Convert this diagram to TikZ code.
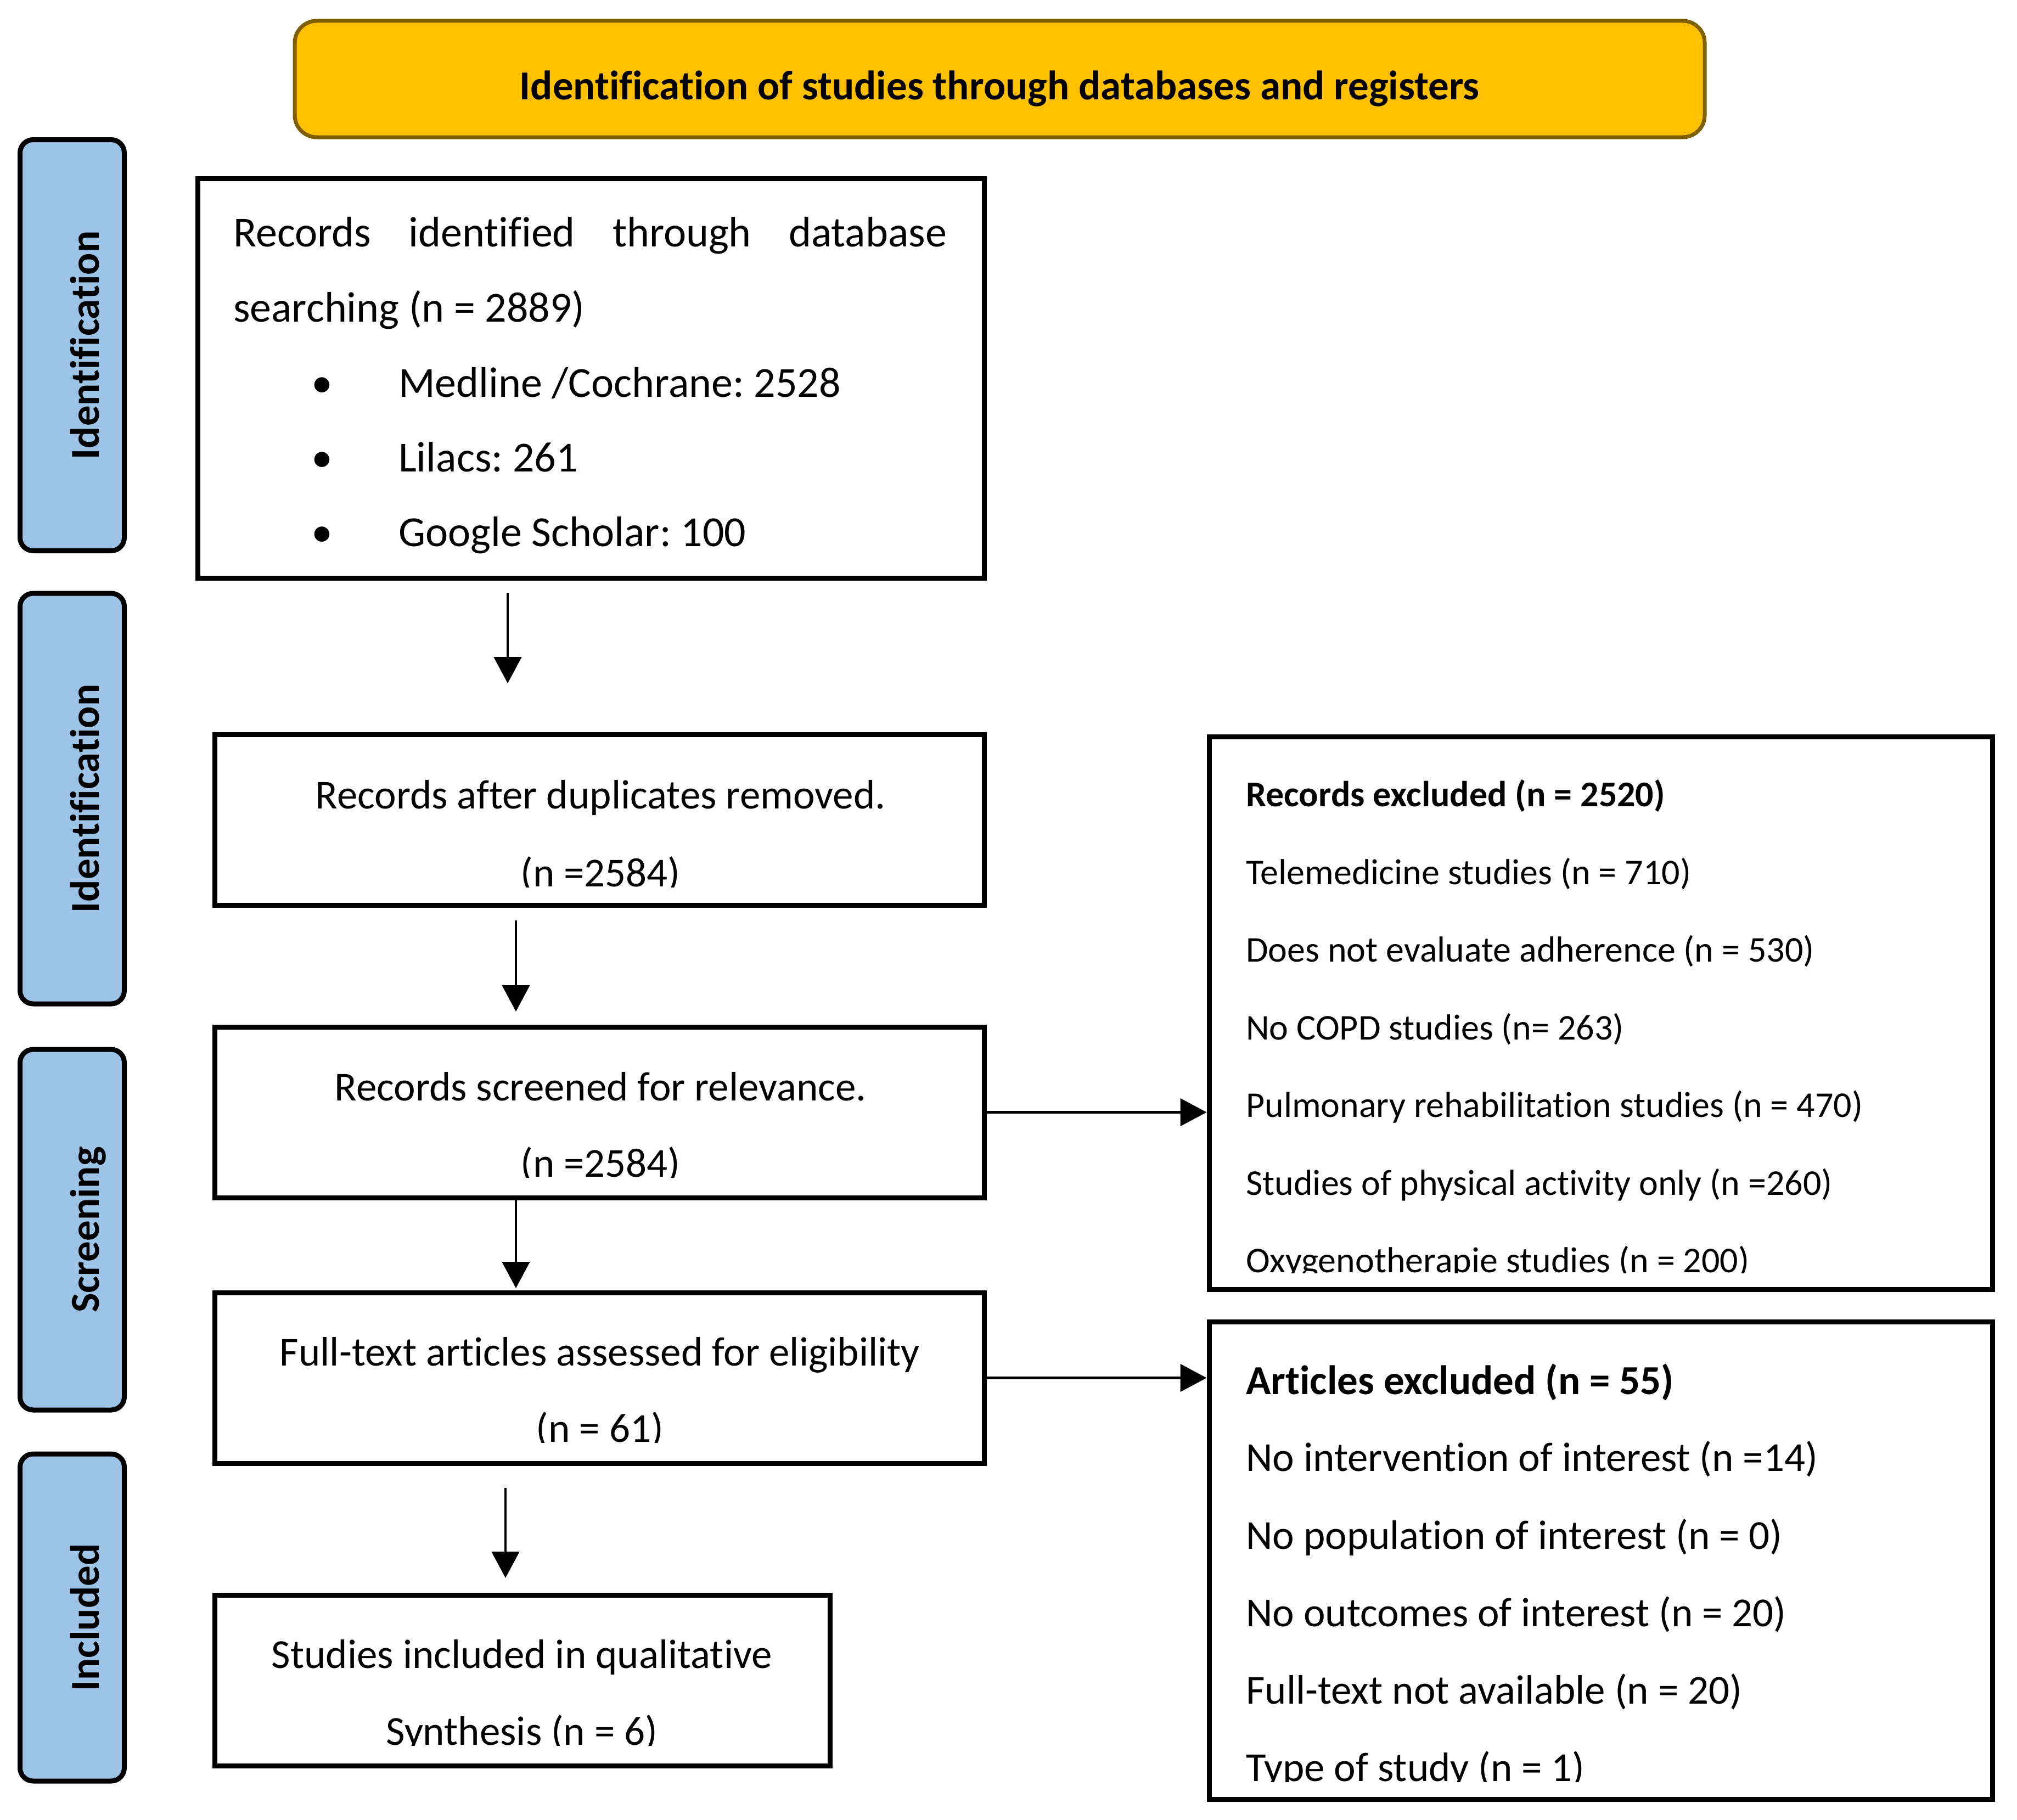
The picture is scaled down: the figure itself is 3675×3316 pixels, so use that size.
\documentclass[tikz,border=0pt]{standalone}
\usepackage{fontspec}
\setmainfont{Carlito}[Ligatures=NoCommon]
\usetikzlibrary{arrows.meta}
\definecolor{bannerfill}{HTML}{FFC000}
\definecolor{banneredge}{HTML}{7F6000}
\definecolor{sidefill}{HTML}{9DC3E6}
\newcommand\setfs[1]{\fontsize{#1pt}{#1pt}\selectfont}
\frenchspacing
\begin{document}
\begin{tikzpicture}[x=1pt,y=-1pt,
  boxn/.style={draw=black, line width=9pt, rectangle, inner sep=0pt},
  sidebox/.style={draw=black, line width=9pt, fill=sidefill, rounded corners=24pt, inner sep=0pt, minimum width=190pt},
  sidelab/.style={rotate=90, anchor=base, inner sep=0pt, font=\setfs{75}\bfseries},
  txt/.style={inner sep=0pt, font=\setfs{75}},
  txtone/.style={inner sep=0pt, font=\setfs{78}},
  txta/.style={inner sep=0pt, font=\setfs{66}, anchor=base west},
  txtb/.style={inner sep=0pt, font=\setfs{75}, anchor=base west},
  arr/.style={line width=4.7pt, -{Triangle[length=48pt,width=50pt]}},
]
\useasboundingbox (0,0) rectangle (3675,3316);

% banner
\node[draw=banneredge, fill=bannerfill, line width=7pt, rounded corners=40pt,
      minimum width=2569pt, minimum height=212pt, inner sep=0pt] (banner) at (1821.5,144) {};
\node[txt, font=\setfs{75}\bfseries, anchor=base] (bannertxt) at (1821,181)
  {Identification of studies through databases and registers};

% side labels
\node[sidebox, minimum height=749pt] (s1) at (131.5,629) {};
\node[sidelab] (l1) at (180,629) {Identification};
\node[sidebox, minimum height=748pt] (s2) at (131.5,1455) {};
\node[sidelab] (l2) at (180,1455) {Identification};
\node[sidebox, minimum height=657pt] (s3) at (131.5,2240.5) {};
\node[sidelab] (l3) at (180,2240.5) {Screening};
\node[sidebox, minimum height=596pt] (s4) at (131.5,2947) {};
\node[sidelab] (l4) at (180,2947) {Included};

% box 1
\node[boxn, minimum width=1433pt, minimum height=728pt] (b1) at (1076.5,689) {};
\node[txtone, anchor=base west] (t1a) at (425,449) {\makebox[1300pt][s]{Records identified through database}};
\node[txtone, anchor=base west] (t1b) at (425,586) {searching (n = 2889)};
\node[txtone, anchor=base] (u1) at (587,723) {•};
\node[txtone, anchor=base west] (t1c) at (726,723) {Medline /Cochrane: 2528};
\node[txtone, anchor=base] (u2) at (587,859) {•};
\node[txtone, anchor=base west] (t1d) at (726,859) {Lilacs: 261};
\node[txtone, anchor=base] (u3) at (587,995) {•};
\node[txtone, anchor=base west] (t1e) at (726,995) {Google Scholar: 100};

% boxes 2-5
\node[boxn, minimum width=1402pt, minimum height=311pt] (b2) at (1092,1493.5) {};
\node[boxn, minimum width=1402pt, minimum height=311pt] (b3) at (1092,2026.5) {};
\node[boxn, minimum width=1402pt, minimum height=311pt] (b4) at (1092,2510.5) {};
\node[boxn, minimum width=1121pt, minimum height=311pt] (b5) at (951.5,3061.5) {};

\begin{scope}
\clip (391,1338) rectangle (1793,1616);
\node[txt, anchor=base] (t2a) at (1094,1473) {Records after duplicates removed.};
\node[txt, anchor=base] (t2b) at (1094,1615) {(n =2584)};
\end{scope}
\begin{scope}
\clip (391,1871) rectangle (1793,2145);
\node[txt, anchor=base] (t3a) at (1094,2005) {Records screened for relevance.};
\node[txt, anchor=base] (t3b) at (1094,2144) {(n =2584)};
\end{scope}
\begin{scope}
\clip (391,2355) rectangle (1793,2628);
\node[txt, anchor=base] (t4a) at (1093,2488) {Full-text articles assessed for eligibility};
\node[txt, anchor=base] (t4b) at (1093,2627) {(n = 61)};
\end{scope}
\begin{scope}
\clip (391,2906) rectangle (1512,3180);
\node[txt, anchor=base] (t5a) at (951,3039) {Studies included in qualitative};
\node[txt, anchor=base] (t5b) at (951,3179) {Synthesis (n = 6)};
\end{scope}

% right boxes
\node[boxn, minimum width=1427pt, minimum height=1007pt] (exA) at (2916.5,1845.5) {};
\node[boxn, minimum width=1427pt, minimum height=870pt] (exB) at (2916.5,2843) {};

\begin{scope}
\clip (2203,1342) rectangle (3630,2319);
\node[txta, font=\setfs{66}\bfseries] (ta0) at (2270,1469) {Records excluded (n = 2520)};
\node[txta] (ta1) at (2270,1611) {Telemedicine studies (n = 710)};
\node[txta] (ta2) at (2270,1752) {Does not evaluate adherence (n = 530)};
\node[txta] (ta3) at (2270,1894) {No COPD studies (n= 263)};
\node[txta] (ta4) at (2270,2035) {Pulmonary rehabilitation studies (n = 470)};
\node[txta] (ta5) at (2270,2177) {Studies of physical activity only (n =260)};
\node[txta] (ta6) at (2270,2318) {Oxygenotherapie studies (n = 200)};
\end{scope}
\begin{scope}
\clip (2203,2408) rectangle (3630,3246);
\node[txtb, font=\setfs{75}\bfseries] (tb0) at (2270,2540) {Articles excluded (n = 55)};
\node[txtb] (tb1) at (2270,2680) {No intervention of interest (n =14)};
\node[txtb] (tb2) at (2270,2822) {No population of interest (n = 0)};
\node[txtb] (tb3) at (2270,2963) {No outcomes of interest (n = 20)};
\node[txtb] (tb4) at (2270,3104) {Full-text not available (n = 20)};
\node[txtb] (tb5) at (2270,3245) {Type of study (n = 1)};
\end{scope}

% connectors
\coordinate (c1) at (925,0);
\coordinate (c2) at (940,0);
\coordinate (c4) at (921,0);
\draw[arr, shorten <=22.5pt, shorten >=88.5pt] (b1.south -| c1) -- (b2.north -| c1);
\draw[arr, shorten <=23.5pt, shorten >=23.5pt] (b2.south -| c2) -- (b3.north -| c2);
\draw[arr, shorten >=3.5pt] (b3.south -| c2) -- (b4.north -| c2);
\draw[arr, shorten <=40.5pt, shorten >=26.5pt] (b4.south -| c4) -- (b5.north -| c4);
\draw[arr] (b3.east) -- (b3.east -| exA.west);
\draw[arr] (b4.east) -- (b4.east -| exB.west);
\end{tikzpicture}
\end{document}
